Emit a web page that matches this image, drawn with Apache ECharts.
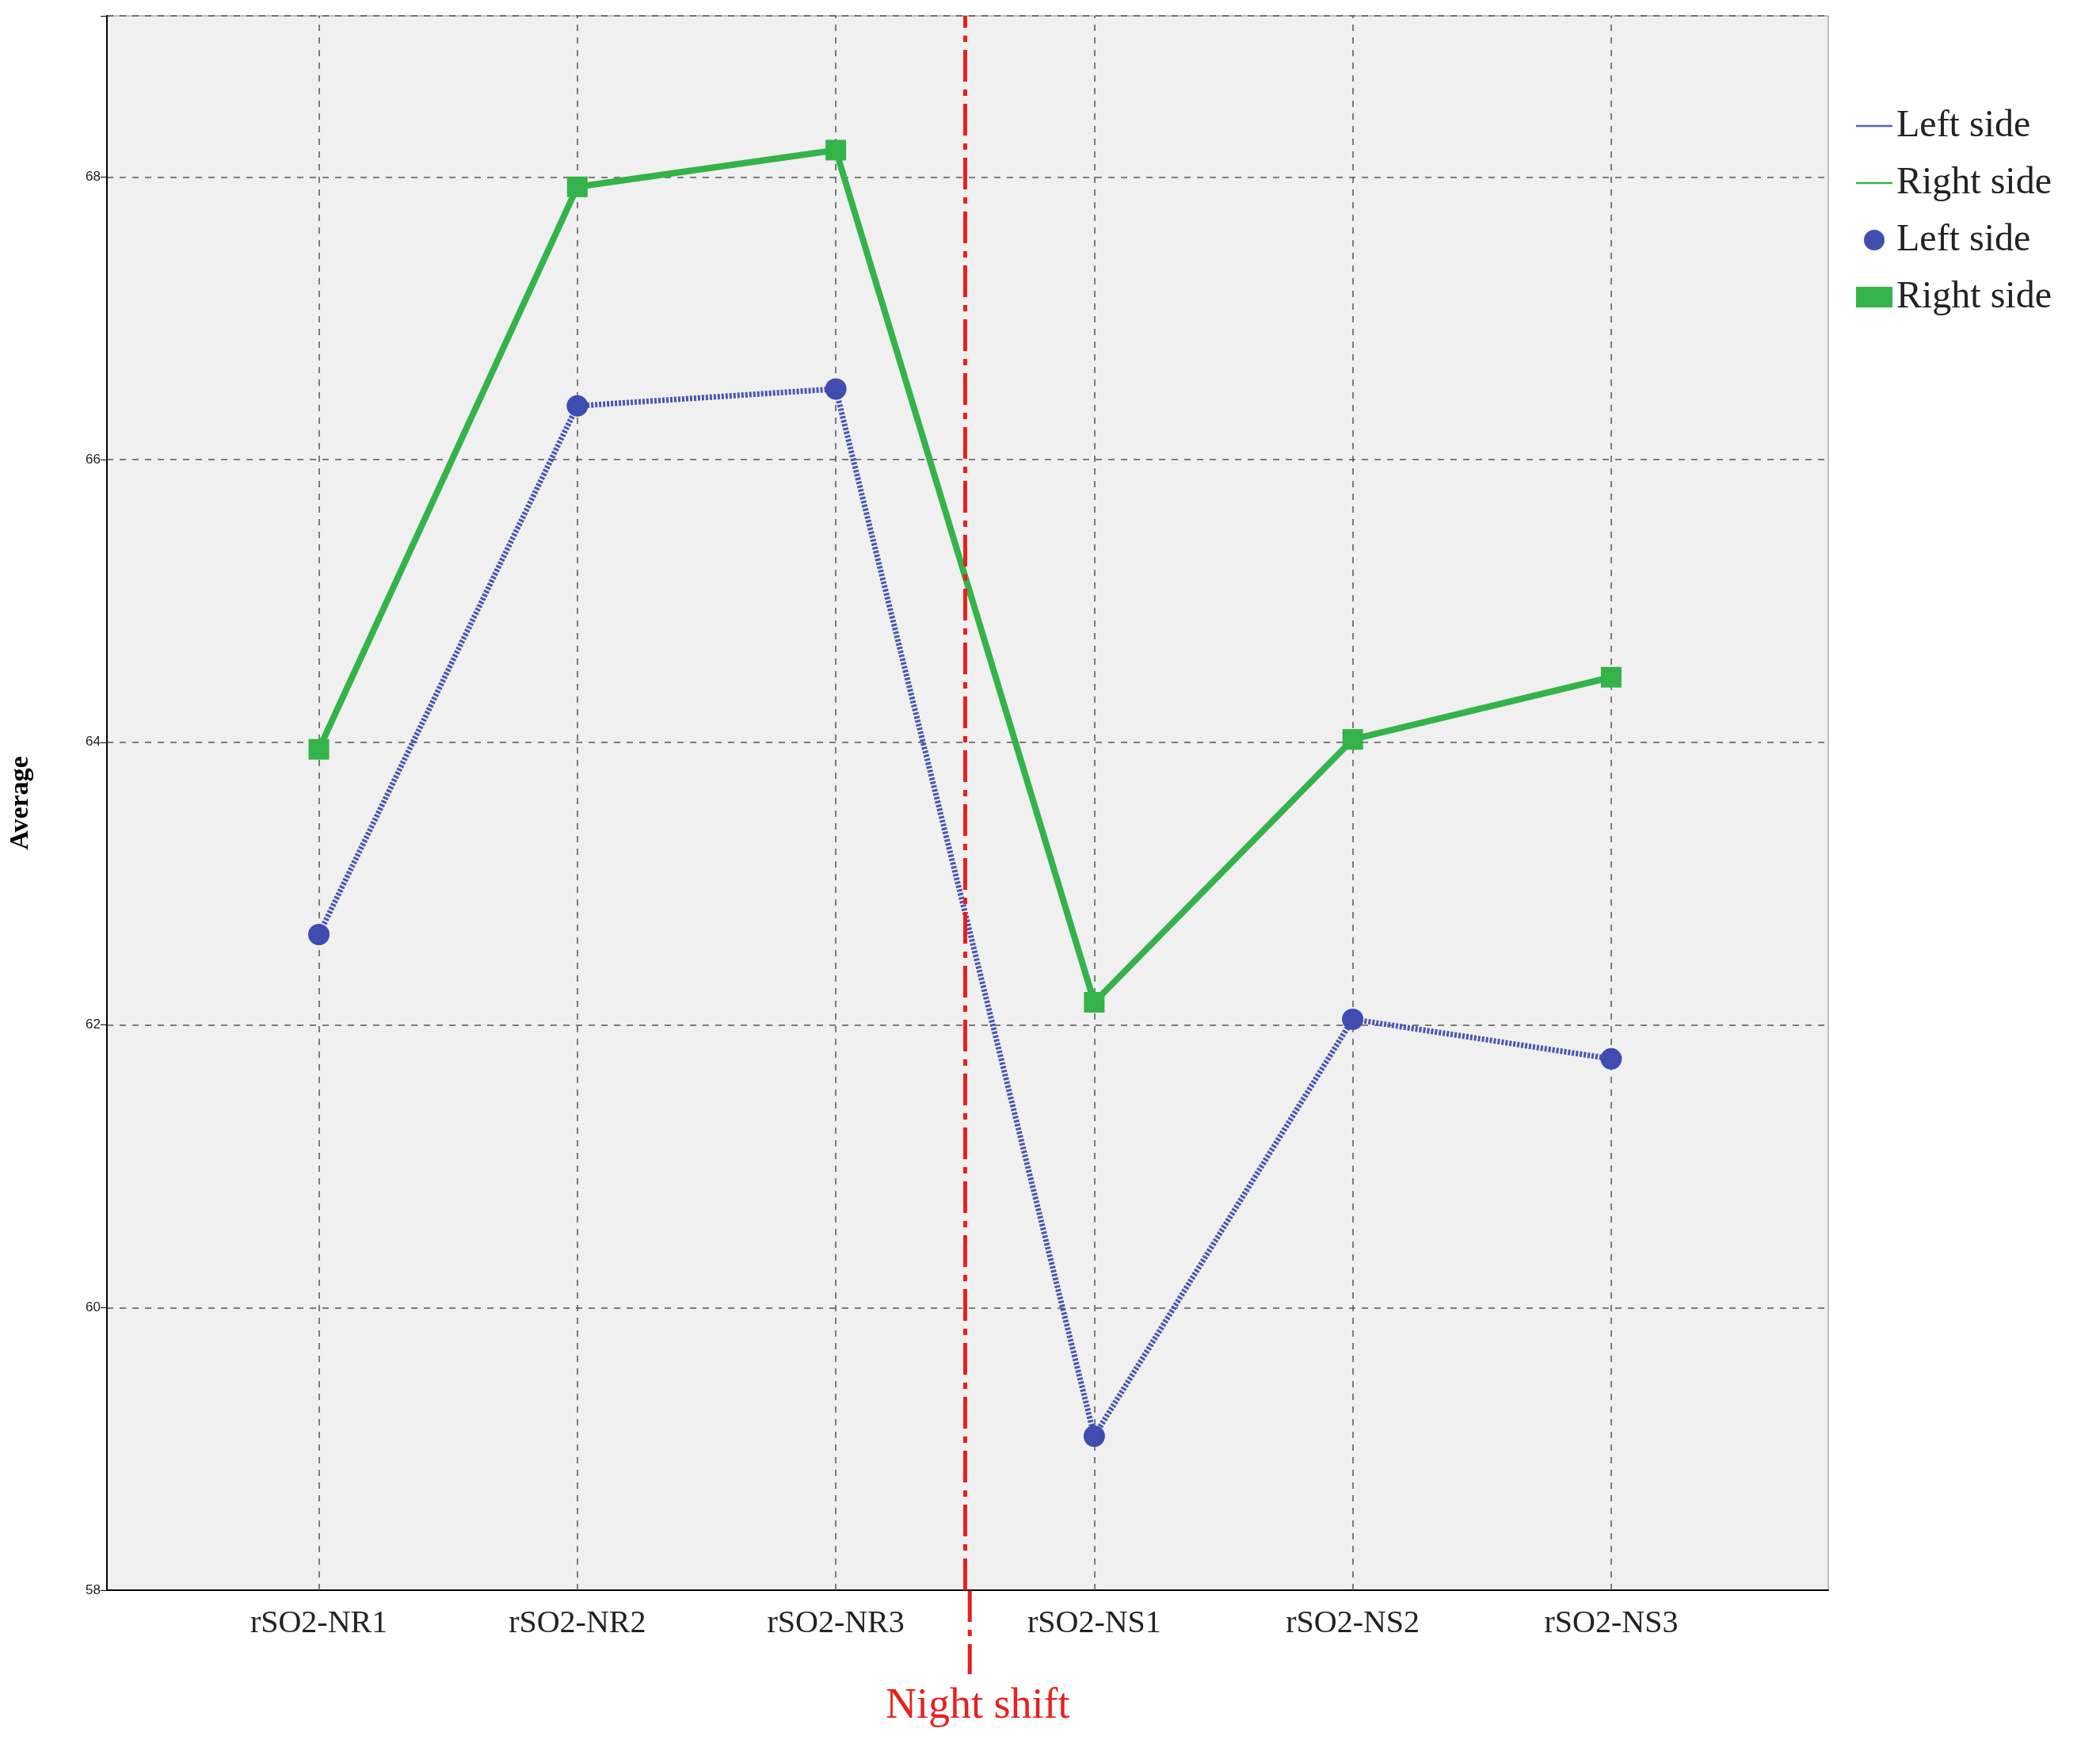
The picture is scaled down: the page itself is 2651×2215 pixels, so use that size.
<!DOCTYPE html>
<html>
<head>
<meta charset="utf-8">
<style>html,body{margin:0;padding:0;background:#fff}#c{width:2651px;height:2215px}</style>
</head>
<body>
<div id="c"></div>
<script src="https://cdn.jsdelivr.net/npm/echarts@6/dist/echarts.min.js"></script>
<script>
var categories = ['rSO2-NR1', 'rSO2-NR2', 'rSO2-NR3', 'rSO2-NS1', 'rSO2-NS2', 'rSO2-NS3'];
var leftSide = [62.64, 66.38, 66.50, 59.09, 62.04, 61.76];
var rightSide = [63.95, 67.93, 68.19, 62.16, 64.02, 64.46];
var yTicks = [58, 60, 62, 64, 66, 68];
var shiftAt = 2.5;

var chart = echarts.init(document.getElementById('c'));
function pts(arr) { return arr.map(function (v, i) { return [i, v]; }); }
var serif = 'Liberation Serif';
var catIdx = categories.map(function (c, i) { return i; });
var gridDash = { type: [8, 8], color: '#555', width: 1.5 };

var option = {
  animation: false,
  grid: { left: 135, right: 343, top: 20, bottom: 208, show: true, backgroundColor: '#f0f0f0', borderColor: '#888', borderWidth: 1 },
  legend: {
    orient: 'vertical', left: 2338, top: 130, itemGap: 24, itemWidth: 46, itemHeight: 26,
    textStyle: { fontFamily: serif, fontSize: 48, color: '#222' },
    data: [
      { name: 'Left side', icon: 'path://M0,0H10V0.5H0Z', itemStyle: { color: '#5560c0' } },
      { name: 'Right side', icon: 'path://M0,0H10V0.5H0Z' },
      { name: 'Left side ', icon: 'circle' },
      { name: 'Right side ', icon: 'rect' }
    ]
  },
  xAxis: {
    type: 'value', min: -0.82, max: 5.84,
    axisLine: { show: true, onZero: false, lineStyle: { color: '#000', width: 2 } },
    axisTick: { show: false },
    splitLine: { show: false },
    axisLabel: {
      customValues: catIdx,
      fontFamily: serif, fontSize: 40, color: '#222', margin: 22,
      formatter: function (v) { return categories[Math.round(v)] || ''; }
    }
  },
  yAxis: {
    type: 'value', min: 58, max: 69.14, interval: 2,
    name: 'Average', nameLocation: 'middle', nameGap: 92,
    nameTextStyle: { fontFamily: serif, fontSize: 34, fontWeight: 'bold', color: '#000' },
    axisLine: { show: true, onZero: false, lineStyle: { color: '#000', width: 2 } },
    axisTick: { show: true, length: 8, lineStyle: { color: '#000' } },
    splitLine: { show: true, lineStyle: gridDash },
    axisLabel: {
      fontFamily: 'Liberation Sans', fontSize: 17, color: '#222',
      formatter: function (v) { return yTicks.indexOf(v) >= 0 ? String(v) : ''; }
    }
  },
  series: [
    { name: 'Left side', type: 'line', data: pts(leftSide), symbol: 'none',
      lineStyle: { color: '#4a55b0', width: 7, type: [3, 2] }, itemStyle: { color: '#4a55b0' }, z: 3,
      markLine: { silent: true, symbol: 'none', label: { show: false }, z: 1,
        lineStyle: gridDash,
        data: catIdx.map(function (i) { return { xAxis: i }; }) } },
    { name: 'Right side', type: 'line', data: pts(rightSide), symbol: 'none',
      lineStyle: { color: '#33b34a', width: 8 }, itemStyle: { color: '#33b34a' }, z: 3,
      markLine: { silent: true, symbol: 'none', label: { show: false },
        lineStyle: { color: '#e8201e', width: 5, type: [40, 10, 8, 10] },
        data: [{ xAxis: shiftAt }] } },
    { name: 'Left side ', type: 'scatter', data: pts(leftSide), symbol: 'circle', symbolSize: 27,
      itemStyle: { color: '#3f4db0', opacity: 1 }, z: 4 },
    { name: 'Right side ', type: 'scatter', data: pts(rightSide), symbol: 'rect', symbolSize: 26,
      itemStyle: { color: '#33b34a', opacity: 1 }, z: 4 }
  ]
};
chart.setOption(option);

var p0 = chart.convertToPixel({ gridIndex: 0 }, [shiftAt, 58]);
chart.setOption({
  graphic: [
    { type: 'line', shape: { x1: p0[0] + 6, y1: p0[1], x2: p0[0] + 6, y2: p0[1] + 106 },
      style: { stroke: '#e8201e', lineWidth: 5, lineDash: [40, 10, 8, 10] } },
    { type: 'text', x: p0[0] + 16, y: p0[1] + 120,
      style: { text: 'Night shift', fill: '#e8201e', font: '54px "Liberation Serif"', textAlign: 'center' } }
  ]
});
</script>
</body>
</html>
